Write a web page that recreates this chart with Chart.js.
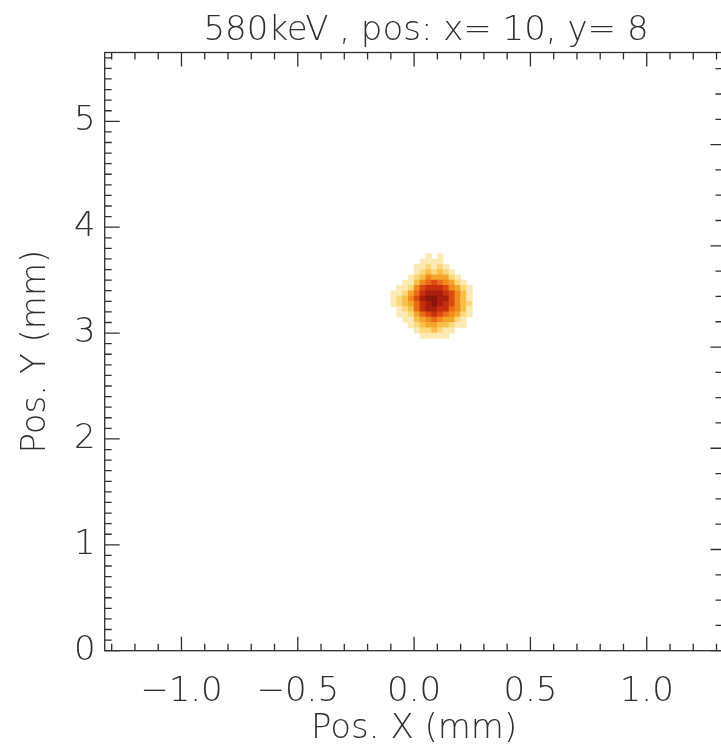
<!DOCTYPE html>
<html>
<head>
<meta charset="utf-8">
<script src="https://cdn.jsdelivr.net/npm/chart.js@4.4.1/dist/chart.umd.min.js"></script>
<style>
  html, body { margin: 0; padding: 0; background: #fff; overflow: hidden; }
  #wrap { width: 721px; height: 744px; overflow: hidden; }
</style>
</head>
<body>
<div id="wrap"><canvas id="spotChart" width="852" height="744"></canvas></div>
<script>
// Spot image: counts per pixel cell (0 = empty)
const titleText = "580keV , pos: x= 10, y= 8";
const xTickValues = [-1.0, -0.5, 0.0, 0.5, 1.0];
const xTickLabels = ["\u22121.0", "\u22120.5", "0.0", "0.5", "1.0"];
const yTickValues = [0, 1, 2, 3, 4, 5];
const yTickLabels = ["0", "1", "2", "3", "4", "5"];

// cell centres (mm)
const cellX = [-0.0875, -0.0625, -0.0375, -0.0125, 0.0125, 0.0375, 0.0625, 0.0875,
  0.1125, 0.1375, 0.1625, 0.1875, 0.2125, 0.2375, 0.2625];
const cellY = [3.725, 3.675, 3.625, 3.575, 3.525, 3.475, 3.425, 3.375,
  3.325, 3.275, 3.225, 3.175, 3.125, 3.075, 3.025, 2.975];
const counts = [
  [0, 0, 0, 0, 0, 0, 1, 0, 1, 0, 0, 0, 0, 0, 0],
  [0, 0, 0, 0, 0, 1, 1, 1, 1, 0, 0, 0, 0, 0, 0],
  [0, 0, 0, 0, 1, 1, 2, 1, 2, 1, 0, 0, 0, 0, 0],
  [0, 0, 0, 0, 1, 2, 3, 2, 3, 2, 1, 0, 0, 0, 0],
  [0, 0, 0, 1, 2, 3, 5, 4, 4, 4, 2, 1, 0, 0, 0],
  [0, 0, 1, 1, 3, 5, 6, 7, 6, 5, 4, 2, 1, 0, 0],
  [0, 1, 1, 2, 5, 7, 8, 8, 8, 7, 5, 4, 2, 1, 0],
  [1, 1, 2, 4, 6, 8, 9, 9, 9, 8, 7, 5, 3, 1, 0],
  [1, 2, 3, 5, 7, 9, 10, 10, 9, 9, 7, 5, 3, 1, 0],
  [1, 2, 3, 4, 6, 8, 9, 10, 9, 8, 7, 5, 3, 2, 0],
  [0, 1, 2, 3, 6, 8, 9, 9, 8, 8, 6, 5, 3, 1, 0],
  [0, 1, 1, 2, 4, 6, 7, 8, 7, 6, 5, 4, 2, 1, 0],
  [0, 0, 1, 1, 3, 4, 5, 6, 5, 4, 4, 2, 1, 0, 0],
  [0, 0, 0, 1, 2, 3, 4, 4, 3, 3, 2, 1, 1, 0, 0],
  [0, 0, 0, 0, 1, 2, 2, 3, 2, 1, 1, 0, 0, 0, 0],
  [0, 0, 0, 0, 0, 1, 1, 1, 1, 1, 0, 0, 0, 0, 0]
];

const cellH = 0.05;
const palette = ["rgba(0,0,0,0)", "#fde9b4", "#fbd87c", "#f8c04a", "#f5a52c", "#f18b1e",
  "#ea6c16", "#dc4a12", "#c7300f", "#a91e0c", "#8a160a"];

const textColor = "#2f2f2f";
const axisFont = { family: "'DejaVu Sans', sans-serif", size: 34, weight: 200, lineHeight: 1.0 };

// floating bars, one per occupied cell
const cells = [];
counts.forEach((row, r) => {
  row.forEach((v, c) => {
    if (v > 0) {
      cells.push({ x: cellX[c], y: [cellY[r] - cellH / 2, cellY[r] + cellH / 2], v: v });
    }
  });
});

/**
 * Draws the plot frame with inward ticks on all four sides
 */
const axisFrame = {
  id: "axisFrame",
  afterDraw(chart) {
    const { ctx, chartArea: a, scales } = chart;
    const { x, y, y2 } = scales;
    ctx.save();
    ctx.strokeStyle = "#2e2e2e";
    ctx.lineWidth = 1.3;
    ctx.strokeRect(a.left, a.top, a.right - a.left, a.bottom - a.top);
    ctx.beginPath();
    for (let i = -13; i <= 13; i++) {
      const px = x.getPixelForValue(i / 10);
      const len = i % 5 === 0 ? 14 : 7;
      ctx.moveTo(px, a.bottom);
      ctx.lineTo(px, a.bottom - len);
      ctx.moveTo(px, a.top);
      ctx.lineTo(px, a.top + len);
    }
    for (let i = 0; i <= 56; i++) {
      const py = y.getPixelForValue(i / 10);
      ctx.moveTo(a.left, py);
      ctx.lineTo(a.left + (i % 10 === 0 ? 15 : 7), py);
    }
    for (let i = 0; i <= 23; i++) {
      const py = y2.getPixelForValue(i / 4);
      ctx.moveTo(a.right, py);
      ctx.lineTo(a.right - (i % 4 === 0 ? 13 : 8), py);
    }
    ctx.stroke();
    ctx.restore();
  },
};

const ctx = document.getElementById("spotChart").getContext("2d");

new Chart(ctx, {
  type: "bar",
  data: {
    datasets: [
      {
        data: cells,
        backgroundColor: (c) => (c.raw ? palette[c.raw.v] : palette[0]),
        borderWidth: 0,
        barPercentage: 1,
        categoryPercentage: 1,
      },
    ],
  },
  options: {
    responsive: false,
    animation: false,
    layout: { padding: 0 },
    plugins: {
      legend: { display: false },
      tooltip: { enabled: false },
      title: {
        display: true,
        text: titleText,
        color: textColor,
        font: axisFont,
        padding: { top: 14, bottom: 4.5 },
      },
    },
    scales: {
      x: {
        type: "linear",
        min: -1.33,
        max: 1.33,
        offset: false,
        grid: { display: false, drawTicks: false },
        border: { display: false },
        afterBuildTicks: (s) => {
          s.ticks = xTickValues.map((value) => ({ value }));
        },
        afterFit: (s) => {
          s.height = 93.3;
        },
        ticks: {
          autoSkip: false,
          maxRotation: 0,
          padding: 24,
          color: textColor,
          font: axisFont,
          callback: (v, i) => xTickLabels[i],
        },
        title: { display: true, text: "Pos. X (mm)", color: textColor, font: { ...axisFont, lineHeight: 0.9 }, padding: 0 },
      },
      y: {
        type: "linear",
        position: "left",
        min: 0,
        max: 5.65,
        grid: { display: false, drawTicks: false },
        border: { display: false },
        afterBuildTicks: (s) => {
          s.ticks = yTickValues.map((value) => ({ value }));
        },
        afterFit: (s) => {
          s.width = 104.7;
        },
        ticks: {
          padding: 9,
          color: textColor,
          font: axisFont,
          callback: (v, i) => yTickLabels[i],
        },
        title: { display: true, text: "Pos. Y (mm)", color: textColor, font: { ...axisFont, lineHeight: 2.1 }, padding: 0 },
      },
      y2: {
        type: "linear",
        position: "right",
        min: 0,
        max: 5.91,
        grid: { display: false, drawTicks: false },
        border: { display: false },
        ticks: { display: false },
        afterFit: (s) => {
          s.width = 128.5;
        },
      },
    },
  },
  plugins: [axisFrame],
});
</script>
</body>
</html>
